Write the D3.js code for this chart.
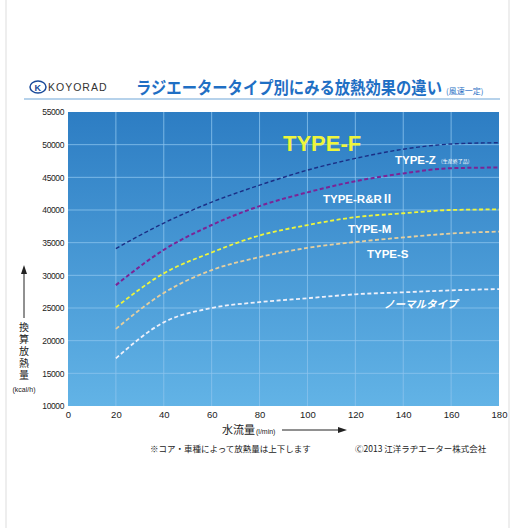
<!DOCTYPE html>
<html><head><meta charset="utf-8">
<script src="https://cdn.jsdelivr.net/npm/d3@7"></script>
<style>body{margin:0;background:#fff;font-family:"Liberation Sans","Noto Sans CJK JP",sans-serif}</style>
</head><body><div id="chart"></div>
<script>
var flows = [20, 40, 60, 80, 100, 120, 140, 160, 180];
var typeF = [34100, 38000, 41200, 43800, 46100, 47900, 49300, 50100, 50300];
var typeR = [28500, 33900, 37700, 40600, 42700, 44400, 45600, 46400, 46500];
var typeM = [25100, 30300, 33500, 36100, 37700, 38900, 39500, 40000, 40100];
var typeS = [21800, 27300, 30800, 32800, 34200, 35100, 35800, 36400, 36700];
var normal = [17300, 22800, 25000, 25900, 26500, 27100, 27400, 27700, 27900];
var xTicks = [0, 20, 40, 60, 80, 100, 120, 140, 160, 180];
var yTicks = [10000, 15000, 20000, 25000, 30000, 35000, 40000, 45000, 50000, 55000];

var series = [
  {vals: typeF, color: "#1b2f86", w: 1.4},
  {vals: typeR, color: "#7b2496", w: 2},
  {vals: typeM, color: "#eef53c", w: 1.8},
  {vals: typeS, color: "#e6cf9e", w: 1.8},
  {vals: normal, color: "#eef0fa", w: 1.8}
];

var svg = d3.select("#chart").append("svg").attr("width", 528).attr("height", 528);
const plotL = 68, plotR = 499, plotT = 112, plotB = 406;

// page frame
svg.append("line").attr("x1", 6).attr("x2", 6).attr("y1", 0).attr("y2", 528).attr("stroke", "#ddd");
svg.append("line").attr("x1", 509).attr("x2", 509).attr("y1", 0).attr("y2", 528).attr("stroke", "#ddd");

// header
var logo = svg.append("g").attr("transform", "translate(38,87)");
logo.append("ellipse").attr("rx", 8).attr("ry", 6).attr("fill", "none").attr("stroke", "#1a4a9a").attr("stroke-width", 1.5);
logo.append("text").attr("x", -3.5).attr("y", 3.5).attr("font-size", 9).attr("font-weight", "bold").attr("fill", "#1a4a9a").text("K");
svg.append("text").attr("x", 48).attr("y", 91).attr("font-size", 10.5).attr("fill", "#333").attr("letter-spacing", 1).text("KOYORAD");
svg.append("text").attr("x", 136).attr("y", 94).attr("font-size", 17.5).attr("font-weight", "bold").attr("fill", "#1f6fc4")
  .attr("font-family", "Noto Sans CJK JP").attr("textLength", 306).attr("lengthAdjust", "spacingAndGlyphs")
  .text("ラジエータータイプ別にみる放熱効果の違い");
svg.append("text").attr("x", 446).attr("y", 94).attr("font-size", 8).attr("fill", "#1f6fc4")
  .attr("font-family", "Noto Sans CJK JP").text("(風速一定)");
svg.append("line").attr("x1", 24).attr("x2", 500).attr("y1", 99).attr("y2", 99).attr("stroke", "#6fa6d8").attr("stroke-width", 1.2);

var x = d3.scaleLinear().domain([0, 180]).range([plotL, plotR]);
var y = d3.scaleLinear().domain([10000, 55000]).range([plotB, plotT]);

var grad = svg.append("defs").append("linearGradient").attr("id", "bg").attr("x1", 0).attr("x2", 0).attr("y1", 0).attr("y2", 1);
grad.append("stop").attr("offset", "0%").attr("stop-color", "#2d7dc3");
grad.append("stop").attr("offset", "100%").attr("stop-color", "#62b3e6");
svg.append("rect").attr("x", plotL).attr("y", plotT).attr("width", plotR - plotL).attr("height", plotB - plotT).attr("fill", "url(#bg)");

var grid = svg.append("g").attr("stroke", "#8cc4ee").attr("stroke-width", 0.8);
grid.selectAll(".v").data(xTicks.slice(1, -1)).enter().append("line")
  .attr("x1", d => x(d)).attr("x2", d => x(d)).attr("y1", plotT).attr("y2", plotB);
grid.selectAll(".h").data(yTicks.slice(1, -1)).enter().append("line")
  .attr("y1", d => y(d)).attr("y2", d => y(d)).attr("x1", plotL).attr("x2", plotR);

var xAxis = svg.append("g").attr("transform", `translate(0,${plotB})`)
  .call(d3.axisBottom(x).tickValues(xTicks).tickSize(0).tickPadding(5));
xAxis.select(".domain").remove();
xAxis.selectAll("text").attr("font-size", 9.5).attr("fill", "#222");
var yAxis = svg.append("g").attr("transform", `translate(${plotL},0)`)
  .call(d3.axisLeft(y).tickValues(yTicks).tickSize(0).tickPadding(4).tickFormat(d3.format("d")));
yAxis.select(".domain").remove();
yAxis.selectAll("text").attr("font-size", 8.5).attr("fill", "#222").attr("letter-spacing", -0.4);

var line = d3.line().x((d, i) => x(flows[i])).y(d => y(d)).curve(d3.curveMonotoneX);
series.forEach(function(s) {
  svg.append("path").datum(s.vals).attr("d", line).attr("fill", "none")
    .attr("stroke", s.color).attr("stroke-width", s.w).attr("stroke-dasharray", "4,2.5");
});

// labels
svg.append("text").attr("x", 283).attr("y", 151).attr("font-size", 22).attr("font-weight", "bold").attr("fill", "#eef53c").text("TYPE-F");
var lab = svg.append("g").attr("fill", "#fff").attr("font-weight", "bold").attr("font-size", 11.5);
lab.append("text").attr("x", 395).attr("y", 164).text("TYPE-Z");
lab.append("text").attr("x", 441).attr("y", 163).attr("font-size", 5).attr("font-weight", "normal").attr("font-family", "Noto Sans CJK JP").text("(生産終了品)");
lab.append("text").attr("x", 323).attr("y", 203).text("TYPE-R&RⅡ");
lab.append("text").attr("x", 348).attr("y", 233).text("TYPE-M");
lab.append("text").attr("x", 367).attr("y", 258).text("TYPE-S");
lab.append("text").attr("x", 384).attr("y", 308).attr("font-style", "italic").attr("font-family", "Noto Sans CJK JP").attr("font-size", 10.5).text("ノーマルタイプ");

// y title
svg.append("line").attr("x1", 24).attr("x2", 24).attr("y1", 318).attr("y2", 272).attr("stroke", "#222");
svg.append("path").attr("d", "M21,274 L24,265 L27,274 Z").attr("fill", "#222");
var yt = svg.append("g").attr("font-family", "Noto Sans CJK JP").attr("font-size", 10).attr("fill", "#222").attr("text-anchor", "middle");
["換", "算", "放", "熱", "量"].forEach(function(c, i) { yt.append("text").attr("x", 24).attr("y", 331 + i * 12).text(c); });
svg.append("text").attr("x", 24).attr("y", 392).attr("font-size", 7).attr("fill", "#222").attr("text-anchor", "middle").text("(kcal/h)");

// x title
svg.append("text").attr("x", 222).attr("y", 434).attr("font-size", 11).attr("fill", "#222").attr("font-family", "Noto Sans CJK JP").text("水流量");
svg.append("text").attr("x", 256).attr("y", 434).attr("font-size", 7).attr("fill", "#222").text("(l/min)");
svg.append("line").attr("x1", 282).attr("x2", 340).attr("y1", 430).attr("y2", 430).attr("stroke", "#222");
svg.append("path").attr("d", "M338,427 L347,430 L338,433 Z").attr("fill", "#222");

// notes
svg.append("text").attr("x", 150).attr("y", 452).attr("font-size", 8.5).attr("fill", "#222").attr("font-family", "Noto Sans CJK JP").text("※コア・車種によって放熱量は上下します");
svg.append("text").attr("x", 355).attr("y", 452).attr("font-size", 8.5).attr("fill", "#222").attr("font-family", "Noto Sans CJK JP").text("Ⓒ2013 江洋ラヂエーター株式会社");
</script></body></html>
